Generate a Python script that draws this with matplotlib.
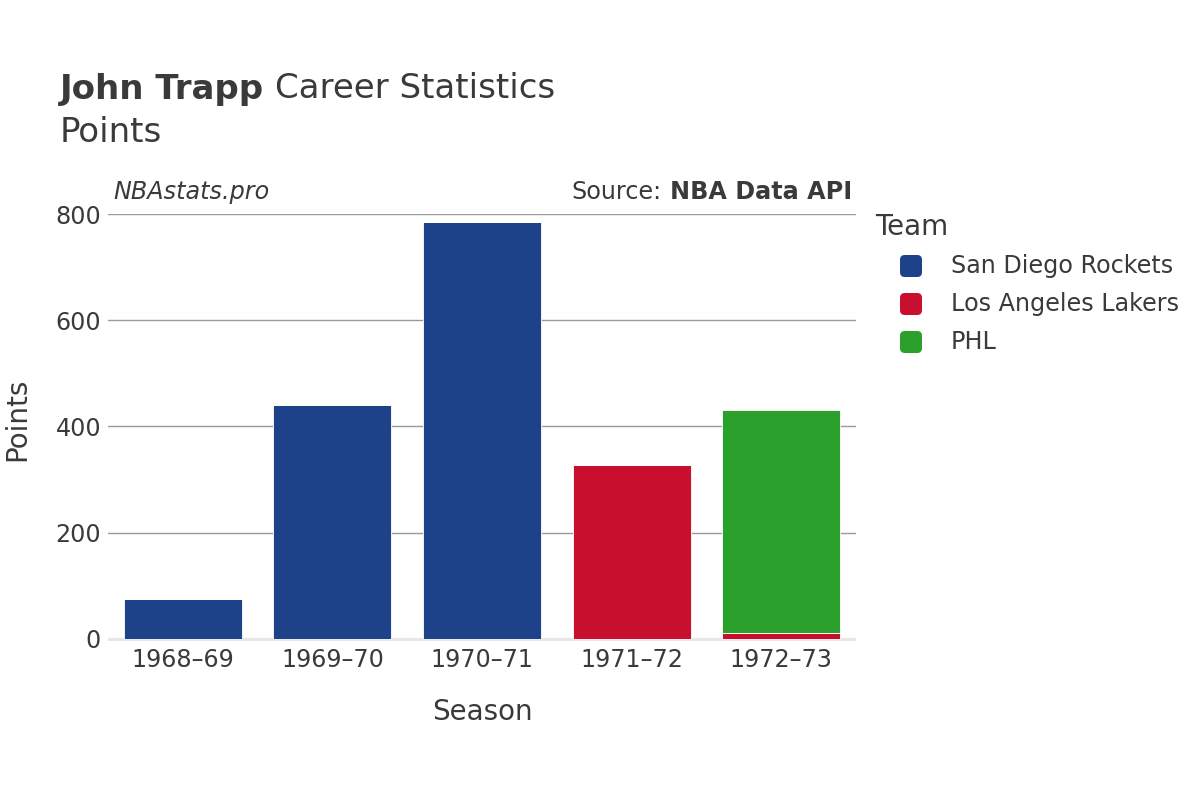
import matplotlib
matplotlib.use("Agg")
import matplotlib.pyplot as plt
from matplotlib.patches import FancyBboxPatch
import numpy as np

seasons = ["1968–69", "1969–70", "1970–71", "1971–72", "1972–73"]
teams = ["San Diego Rockets", "Los Angeles Lakers", "PHL"]
team_colors = ["#1d428a", "#c8102e", "#2ca02c"]
rockets = [75, 441, 785, 0, 0]
lakers = [0, 0, 0, 327, 11]
phl = [0, 0, 0, 0, 420]
yticks = [0, 200, 400, 600, 800]

TXT = "#3a3a3a"
W, H = 1200, 800
fig = plt.figure(figsize=(12, 8), dpi=100)
plt.rcParams['font.family'] = ['DejaVu Sans']

ax = fig.add_axes([108 / W, 1 - 641 / H, (856 - 108) / W, (641 - 214) / H])
x = np.arange(len(seasons))
series = [rockets, lakers, phl]
bottom = np.zeros(len(seasons))
for vals, col, name in zip(series, team_colors, teams):
    v = np.array(vals, dtype=float)
    ax.bar(x, v, bottom=bottom, width=0.79, color=col, edgecolor="#ffffff",
           linewidth=0.6, label=name, zorder=3)
    bottom += v

ax.set_xlim(-0.5, len(seasons) - 0.5)
ax.set_ylim(-4, 800)
ax.set_yticks(yticks)
ax.set_yticklabels([str(t) for t in yticks])
ax.set_xticks(x)
ax.set_xticklabels(seasons)
for s in ax.spines.values():
    s.set_visible(False)
ax.tick_params(axis="both", length=0, labelsize=17.2, labelcolor=TXT)
ax.tick_params(axis="y", pad=5)
ax.tick_params(axis="x", pad=5)
for t in yticks[1:]:
    ax.axhline(t, color="#9a9a9a", linewidth=1, zorder=1)
ax.axhline(-2, color="#e6e6e6", linewidth=3, zorder=2)

ax.set_xlabel("Season", fontsize=20, color=TXT)
ax.set_ylabel("Points", fontsize=20, color=TXT)
ax.xaxis.set_label_coords(0.5, -(712 - 641) / (641 - 214), transform=ax.transAxes)
ax.xaxis.label.set_va("center")
ax.yaxis.set_label_coords((17 - 108) / (856 - 108), (641 - 419) / (641 - 214), transform=ax.transAxes)
ax.yaxis.label.set_va("center")

# Titles
t1 = fig.text(60 / W, 1 - 89 / H, "John Trapp", fontsize=24.5, fontweight="bold",
              color=TXT, va="center", ha="left")
fig.canvas.draw()
bb = t1.get_window_extent(fig.canvas.get_renderer())
fig.text(bb.x1 / W + 11 / W, 1 - 89 / H, "Career Statistics", fontsize=24.5,
         color=TXT, va="center", ha="left")
fig.text(60 / W, 1 - 133 / H, "Points", fontsize=24.5, color=TXT, va="center", ha="left")

fig.text(113 / W, 1 - 192 / H, "NBAstats.pro", fontsize=17.2, style="italic",
         color=TXT, va="center", ha="left")
s2 = fig.text(852 / W, 1 - 192 / H, "NBA Data API", fontsize=17.2, fontweight="bold",
              color=TXT, va="center", ha="right")
fig.canvas.draw()
bb2 = s2.get_window_extent(fig.canvas.get_renderer())
fig.text(bb2.x0 / W - 8 / W, 1 - 192 / H, "Source:", fontsize=17.2,
         color=TXT, va="center", ha="right")

# Legend
fig.text(875 / W, 1 - 227 / H, "Team", fontsize=20, color=TXT, va="center", ha="left")
for i, (name, col) in enumerate(zip(teams, team_colors)):
    yc = 266 + i * 38
    sq = 22
    p = FancyBboxPatch(((911 - sq / 2) / W, 1 - (yc + sq / 2) / H), sq / W, sq / H,
                       boxstyle="round,pad=0,rounding_size=0.004",
                       mutation_aspect=W / H,
                       transform=fig.transFigure, facecolor=col, edgecolor="none")
    fig.patches.append(p)
    fig.text(951 / W, 1 - yc / H, name, fontsize=17.2, color=TXT, va="center", ha="left")

fig.savefig("out.png", dpi=100, facecolor="white")
